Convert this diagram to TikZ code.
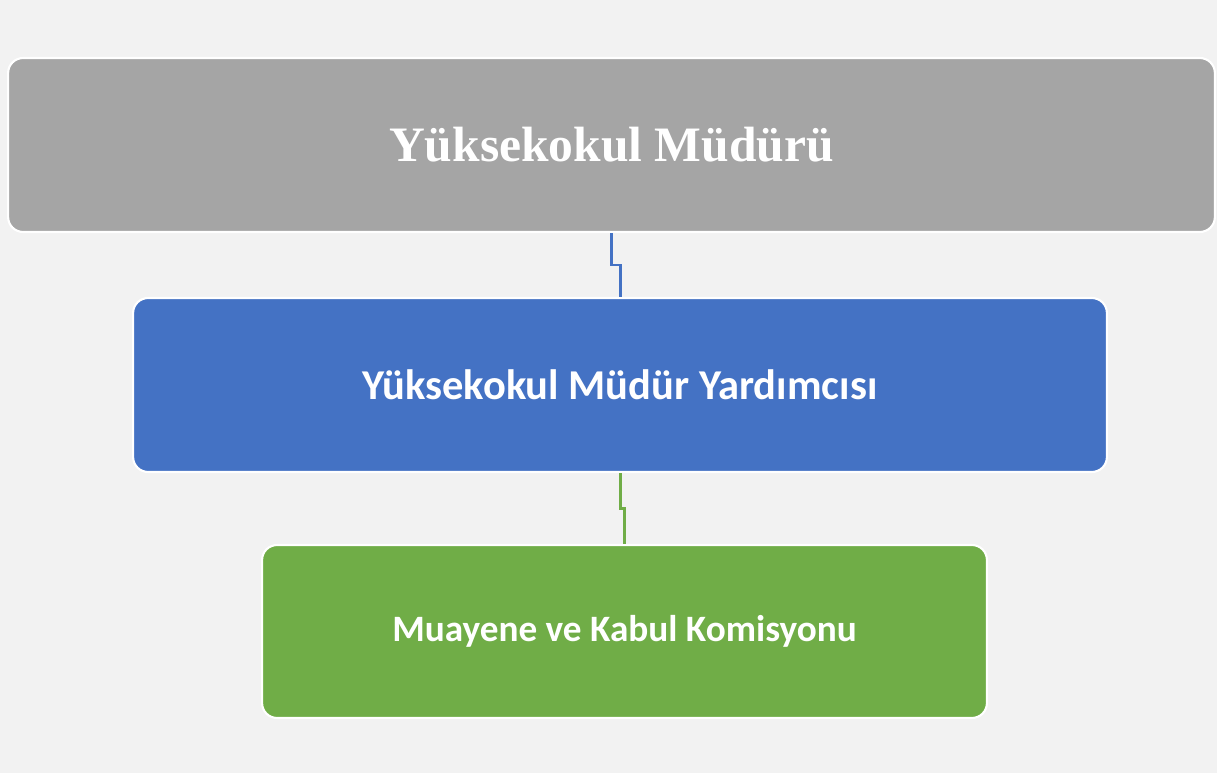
\documentclass[tikz,border=0pt]{standalone}
\usepackage{fontspec}
\setmainfont{Liberation Serif}
\newfontfamily\carlito{Carlito}
\usetikzlibrary{calc}
\definecolor{bggray}{HTML}{F2F2F2}
\definecolor{boxgray}{HTML}{A5A5A5}
\definecolor{boxblue}{HTML}{4472C4}
\definecolor{boxgreen}{HTML}{70AD47}
\begin{document}
\begin{tikzpicture}[x=0.02cm,y=-0.02cm,
  box/.style={draw=white,line width=1.2pt,rounded corners=0.3cm,
    text=white,inner sep=0pt,align=center},
  link/.style={line width=1.7pt}]
\fill[bggray] (0,0) rectangle (1217,773);
\useasboundingbox (0,0) rectangle (1217,773);
% boxes
\node[box,fill=boxgray,minimum width=24.14cm,minimum height=3.48cm]
  (mudur) at (611.5,145) {\fontsize{28.2}{34}\selectfont\bfseries Yüksekokul Müdürü};
\node[box,fill=boxblue,minimum width=19.48cm,minimum height=3.48cm]
  (yardimci) at (620,385) {\carlito\fontsize{24.2}{29}\selectfont\bfseries Yüksekokul Müdür Yardımcısı};
\node[box,fill=boxgreen,minimum width=14.5cm,minimum height=3.46cm]
  (komisyon) at (624.5,631.5) {\carlito\fontsize{21.2}{25}\selectfont\bfseries Muayene ve Kabul Komisyonu};
% links
\draw[link,boxblue] (mudur.south) |- ($(mudur.south)!0.5!(yardimci.north)$) -| (yardimci.north);
\draw[link,boxgreen] (yardimci.south) |- ($(yardimci.south)!0.5!(komisyon.north)$) -| (komisyon.north);
\end{tikzpicture}
\end{document}
